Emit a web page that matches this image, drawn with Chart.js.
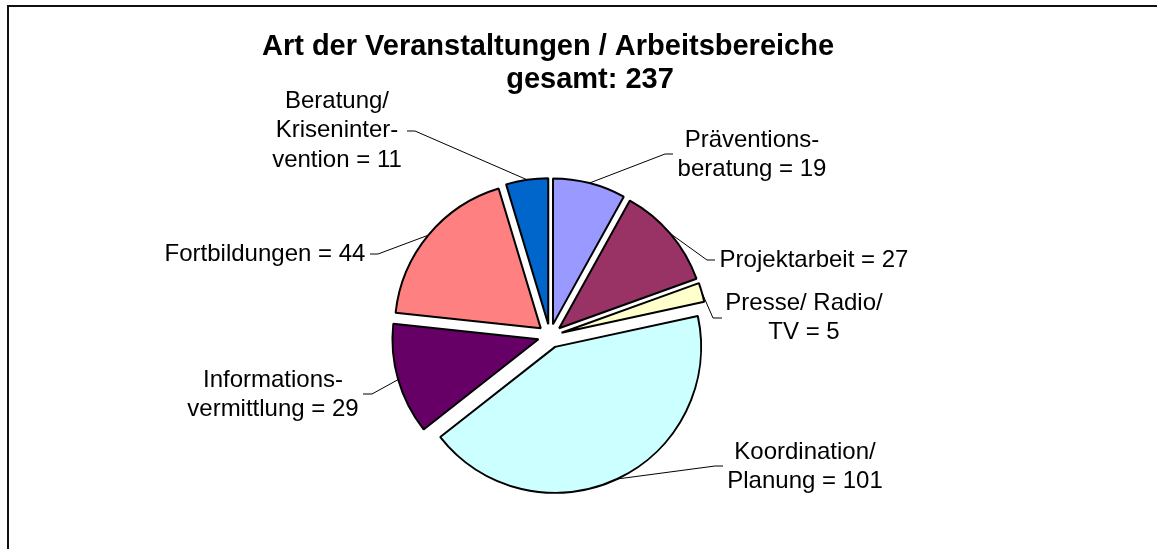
<!DOCTYPE html>
<html lang="de">
<head>
<meta charset="utf-8">
<title>Art der Veranstaltungen / Arbeitsbereiche</title>
<script src="https://cdn.jsdelivr.net/npm/chart.js@4.4.1/dist/chart.umd.min.js"></script>
<style>
    html, body { margin: 0; padding: 0; background: #fff; overflow: hidden; }
    #frame {
        position: absolute; left: 7px; top: 5px; width: 1300px; height: 700px;
        border-left: 2px solid #111; border-top: 2px solid #111;
    }
    #wrap { position: absolute; left: 0; top: 0; width: 1157px; height: 549px; }
</style>
</head>
<body>
<div id="frame"></div>
<div id="wrap"><canvas id="chart-pie"></canvas></div>
<script>
// Chart data
const titleLines = ['Art der Veranstaltungen / Arbeitsbereiche', 'gesamt: 237'];
const categoryLines = [
    ['Präventions-', 'beratung'],
    ['Projektarbeit'],
    ['Presse/ Radio/', 'TV'],
    ['Koordination/', 'Planung'],
    ['Informations-', 'vermittlung'],
    ['Fortbildungen'],
    ['Beratung/', 'Kriseninter-', 'vention']
];
const values = [19, 27, 5, 101, 29, 44, 11];
const sliceColors = ['#9999FF', '#993366', '#FFFFCC', '#CCFFFF', '#660066', '#FF8080', '#0066CC'];

// Label placement relative to pie center: text center, leader elbow, leader end
const labelLayout = [
    { text: [202, -196], elbow: [115, -182], end: [123, -182] },
    { text: [264, -76],  elbow: [157, -76],  end: [165, -76] },
    { text: [254, -33],  elbow: [163, -18],  end: [172, -18] },
    { text: [255, 116],  elbow: [165, 130],  end: [173, 130] },
    { text: [-277, 44],  elbow: [-178, 58],  end: [-187, 58] },
    { text: [-285, -82], elbow: [-172, -82], end: [-180, -82] },
    { text: [-213, -235], elbow: [-135, -205], end: [-143, -205] }
];

const FONT = '"Liberation Sans", Arial, sans-serif';
const LINE_H = 29.5;
// explosion distance of every slice (px); done by hand so radius stays equal
const EXPLODE = 12;

/**
 * Draw each arc shifted outward along its mid angle (Excel style exploded pie)
 */
const explodePie = {
    id: 'explodePie',
    beforeDatasetDraw(chart, args) {
        const ctx = chart.ctx;
        args.meta.data.forEach(arc => {
            const mid = (arc.startAngle + arc.endAngle) / 2;
            ctx.save();
            ctx.translate(Math.cos(mid) * EXPLODE, Math.sin(mid) * EXPLODE);
            arc.draw(ctx, chart.chartArea);
            ctx.restore();
        });
        return false;
    }
};

/**
 * Draws title, leader lines and the "name = value" labels
 */
const pieLabels = {
    id: 'pieLabels',
    afterDraw(chart) {
        const ctx = chart.ctx;
        const meta = chart.getDatasetMeta(0);
        const cx = meta.data[0].x;
        const cy = meta.data[0].y;

        ctx.save();
        ctx.fillStyle = '#000';
        ctx.textAlign = 'center';
        ctx.textBaseline = 'middle';

        // title, second line sits right of centre like in the original
        ctx.font = `bold 29px ${FONT}`;
        ctx.fillText(titleLines[0], cx - 2, 47);
        ctx.fillText(titleLines[1], cx + 40, 80);

        ctx.font = `24px ${FONT}`;
        ctx.strokeStyle = '#000';
        ctx.lineWidth = 1;

        meta.data.forEach((arc, i) => {
            const lay = labelLayout[i];
            const mid = (arc.startAngle + arc.endAngle) / 2;
            const dist = arc.outerRadius + EXPLODE;
            const px = arc.x + Math.cos(mid) * dist;
            const py = arc.y + Math.sin(mid) * dist;

            ctx.beginPath();
            ctx.moveTo(px, py);
            ctx.lineTo(cx + lay.elbow[0], cy + lay.elbow[1]);
            ctx.lineTo(cx + lay.end[0], cy + lay.end[1]);
            ctx.stroke();

            const lines = categoryLines[i].slice();
            lines[lines.length - 1] += ' = ' + values[i];
            lines.forEach((t, k) => {
                ctx.fillText(t, cx + lay.text[0], cy + lay.text[1] + k * LINE_H);
            });
        });
        ctx.restore();
    }
};

const ctx = document.getElementById('chart-pie').getContext('2d');
new Chart(ctx, {
    type: 'pie',
    data: {
        labels: categoryLines.map(l => l.join(' ')),
        datasets: [{
            data: values,
            backgroundColor: sliceColors,
            borderColor: '#000',
            borderWidth: 2
        }]
    },
    options: {
        responsive: true,
        maintainAspectRatio: false,
        animation: false,
        layout: { padding: { left: 200, right: 257, top: 189, bottom: 66 } },
        plugins: {
            legend: { display: false },
            tooltip: { enabled: false },
            title: { display: false }
        }
    },
    plugins: [explodePie, pieLabels]
});
</script>
</body>
</html>
